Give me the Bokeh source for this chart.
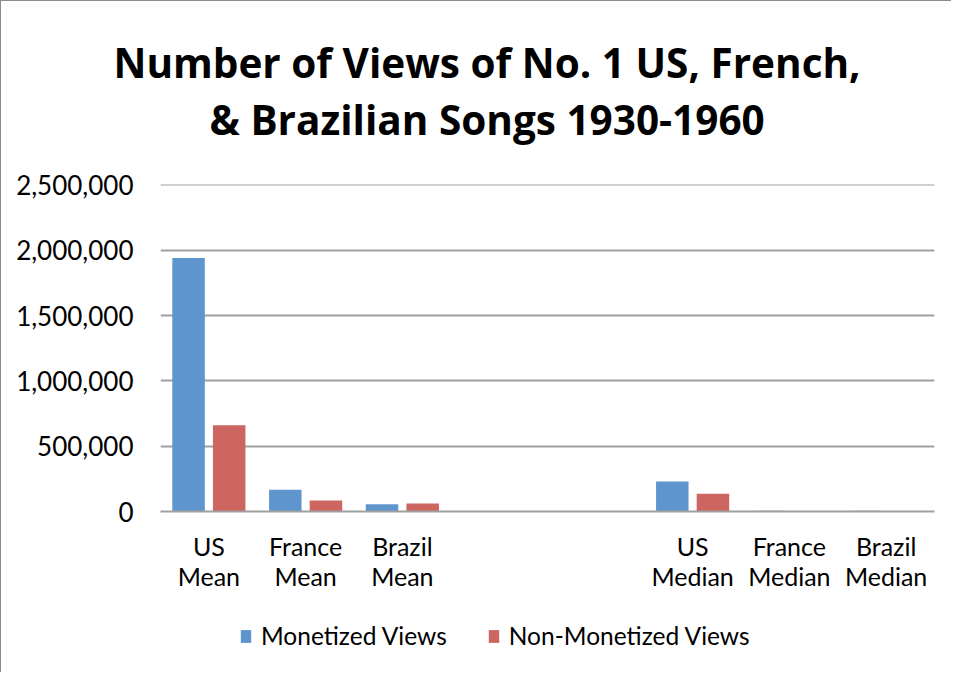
from bokeh.plotting import figure
from bokeh.layouts import column
from bokeh.models import (ColumnDataSource, Title, Legend, LegendItem,
                          NumeralTickFormatter, FixedTicker, Range1d)
from bokeh.transform import dodge
from bokeh.embed import file_html
from bokeh.resources import INLINE

# ---- data ----
categories = ["US\nMean", "France\nMean", "Brazil\nMean", " ", "  ",
              "US\nMedian", "France\nMedian", "Brazil\nMedian"]
monetized = [1940000, 166000, 56000, 0, 0, 229000, 6000, 5000]
non_monetized = [660000, 84000, 61000, 0, 0, 135000, 1500, 2000]
y_ticks = [0, 500000, 1000000, 1500000, 2000000, 2500000]
series_names = ["Monetized Views", "Non-Monetized Views"]
title_lines = ["Number of Views of No. 1 US, French,", "& Brazilian Songs 1930-1960"]

BLUE = "#5F95CD"
RED = "#CD6560"
GRID = "#A0A0A0"
FONT = "Lato"
TFONT = "Open Sans"
W = 950

# ---- main chart ----
src = ColumnDataSource(dict(cat=categories, mon=monetized, non=non_monetized))
p = figure(x_range=categories, y_range=Range1d(0, 2503000), width=W, height=599,
           output_backend="svg", toolbar_location=None,
           min_border_left=159, min_border_right=17,
           min_border_top=183, min_border_bottom=89)
p.outline_line_color = None
p.background_fill_color = "white"
p.border_fill_color = "white"

p.vbar(x=dodge("cat", -0.21, range=p.x_range), top="mon", width=0.336,
       source=src, fill_color=BLUE, line_color=None)
p.vbar(x=dodge("cat", 0.21, range=p.x_range), top="non", width=0.336,
       source=src, fill_color=RED, line_color=None)

p.yaxis.ticker = FixedTicker(ticks=y_ticks)
p.yaxis.formatter = NumeralTickFormatter(format="0,0")
p.yaxis.axis_line_color = None
p.yaxis.major_tick_line_color = None
p.yaxis.minor_tick_line_color = None
p.yaxis.major_label_standoff = 21
p.yaxis.major_label_text_font = FONT
p.yaxis.major_label_text_font_size = "26px"
p.yaxis.major_label_text_color = "black"

p.xaxis.axis_line_color = GRID
p.xaxis.axis_line_width = 2
p.xaxis.major_tick_line_color = None
p.xaxis.minor_tick_line_color = None
p.xaxis.major_label_standoff = 13
p.xaxis.major_label_text_font = FONT
p.xaxis.major_label_text_font_size = "25px"
p.xaxis.major_label_text_line_height = 1.0
p.xaxis.major_label_text_color = "black"

p.xgrid.grid_line_color = None
p.ygrid.grid_line_color = GRID
p.ygrid.grid_line_width = 2

# ---- title: spacer (closest to frame), then line 2, then line 1 ----
p.add_layout(Title(text=" ", standoff=21, text_font_size="10px",
                   text_font=TFONT), "above")
p.add_layout(Title(text=title_lines[1], align="left", offset=49, standoff=1,
                   text_font=TFONT, text_font_style="bold", text_font_size="40.5px",
                   text_color="black"), "above")
p.add_layout(Title(text=title_lines[0], align="left", offset=-47, standoff=0,
                   text_font=TFONT, text_font_style="bold", text_font_size="40.5px",
                   text_color="black"), "above")

# ---- legend strip ----
pl = figure(width=W, height=72, x_range=Range1d(0, 1), y_range=Range1d(0, 1),
            x_axis_type=None, y_axis_type=None, output_backend="svg",
            toolbar_location=None, min_border=0)
pl.outline_line_color = None
pl.grid.visible = False
pl.background_fill_color = "white"
pl.border_fill_color = "white"
keysrc = ColumnDataSource(dict(x=[-10], top=[0]))
k1 = pl.vbar(x="x", top="top", width=0.1, source=keysrc, fill_color=BLUE, line_color=None)
k2 = pl.vbar(x="x", top="top", width=0.1, source=keysrc, fill_color=RED, line_color=None)
legend = Legend(items=[LegendItem(label=series_names[0], renderers=[k1]),
                       LegendItem(label=series_names[1], renderers=[k2])],
                orientation="horizontal", location=(79, 22),
                glyph_width=13, glyph_height=16, label_height=16,
                label_standoff=9, spacing=40, padding=0, margin=0,
                border_line_color=None, background_fill_alpha=0,
                label_text_font=FONT, label_text_font_size="24.5px",
                label_text_color="black")
pl.add_layout(legend, "center")

layout = column(p, pl, spacing=0,
                styles={"border-left": "1px solid #8c8c8c", "border-top": "1px solid #8c8c8c"})

open("out.html", "w").write(file_html(layout, INLINE))
